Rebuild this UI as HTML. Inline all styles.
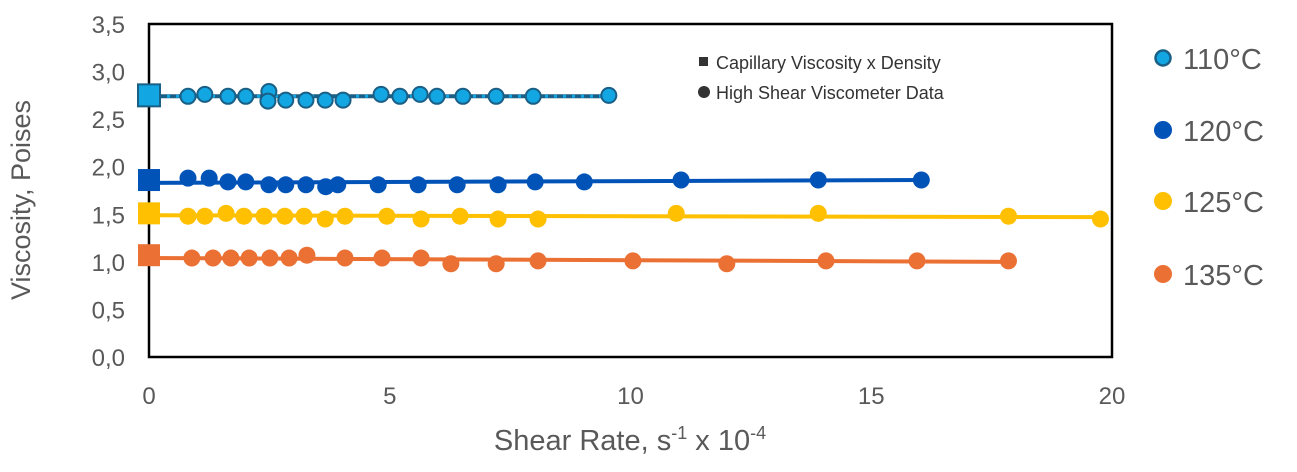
<!DOCTYPE html>
<html><head><meta charset="utf-8"><style>
body{margin:0;background:#fff;}
svg{display:block;font-family:"Liberation Sans",sans-serif;}
</style></head><body>
<svg id="chart" width="1297" height="472">
<g id="grid"></g>
</svg>
<script>
const xTicks=[0,5,10,15,20];
const yTicks=[0,0.5,1,1.5,2,2.5,3,3.5];
const seriesNames=["110°C","120°C","125°C","135°C"];
const capVisc=[2.75,1.86,1.51,1.07];
const x110=[0.81,1.16,1.64,2.01,2.49,2.47,2.84,3.26,3.66,4.03,4.82,5.21,5.63,5.98,6.52,7.21,7.98,9.55];
const y110=[2.74,2.76,2.74,2.74,2.79,2.69,2.70,2.70,2.70,2.70,2.76,2.74,2.76,2.74,2.74,2.74,2.74,2.75];
const x120=[0.81,1.25,1.64,2.01,2.49,2.84,3.26,3.67,3.92,4.76,5.59,6.40,7.25,8.02,9.04,11.05,13.90,16.04];
const y120=[1.88,1.88,1.84,1.84,1.81,1.81,1.81,1.79,1.81,1.81,1.81,1.81,1.81,1.84,1.84,1.86,1.86,1.86];
const x125=[0.81,1.16,1.60,1.97,2.39,2.82,3.22,3.66,4.07,4.94,5.65,6.46,7.25,8.08,10.95,13.90,17.85,19.76];
const y125=[1.48,1.48,1.51,1.48,1.48,1.48,1.48,1.45,1.48,1.48,1.45,1.48,1.45,1.45,1.51,1.51,1.48,1.45];
const x135=[0.89,1.33,1.70,2.08,2.51,2.91,3.28,4.07,4.84,5.65,6.27,7.21,8.08,10.05,12.0,14.06,15.95,17.85];
const y135=[1.04,1.04,1.04,1.04,1.04,1.04,1.07,1.04,1.04,1.04,0.98,0.98,1.01,1.01,0.98,1.01,1.01,1.01];
const trendStart=[2.74,1.83,1.49,1.04];
const trendEnd=[2.74,1.86,1.47,1.00];
const trendEndX=[9.55,16.04,19.76,17.85];

const NS="http://www.w3.org/2000/svg";
const svg=document.getElementById('chart');
const L=149,R=1112,T=24,B=357;
const xs=v=>L+(v-0)/20*(R-L);
const ys=v=>B-(v/3.5)*(B-T);
function el(t,a,p){const e=document.createElementNS(NS,t);for(const k in a)e.setAttribute(k,a[k]);(p||svg).appendChild(e);return e;}

xTicks.forEach(v=>{const t=el('text',{x:xs(v),y:404,'text-anchor':'middle','font-size':24,fill:'#595959'});t.textContent=String(v);

});
yTicks.forEach(v=>{const t=el('text',{x:125,y:ys(v)+9,'text-anchor':'end','font-size':24,fill:'#595959'});t.textContent=v.toFixed(1).replace('.',',');

});

const frame=el('rect',{x:L,y:T,width:R-L,height:B-T,fill:'none',stroke:'#000','stroke-width':2.5});



const colors=['#12a6e2','#0153b8','#fec000','#eb7033'];
const xsArr=[x110,x120,x125,x135], ysArr=[y110,y120,y125,y135];
for(let i=3;i>=0;i--){
  const g=el('g',{});
  
  
  if(i===0){
    el('line',{x1:xs(0),y1:ys(trendStart[0]),x2:xs(trendEndX[0]),y2:ys(trendEnd[0]),stroke:'#1a5f86','stroke-width':4},g);
    el('line',{x1:xs(0),y1:ys(trendStart[0]),x2:xs(trendEndX[0]),y2:ys(trendEnd[0]),stroke:'#12a6e2','stroke-width':3,'stroke-dasharray':'3 6'},g);
  } else {
    const ln=el('line',{x1:xs(0),y1:ys(trendStart[i]),x2:xs(trendEndX[i]),y2:ys(trendEnd[i]),stroke:colors[i],'stroke-width':4},g);
    
    
  }
  xsArr[i].forEach((x,j)=>{
    const c=el('circle',{cx:xs(x),cy:ys(ysArr[i][j]),r:i===0?7.5:8.5,fill:colors[i],stroke:i===0?'#1a5f86':'none','stroke-width':2},g);
    
    
  });
  const s=el('rect',{x:xs(0)-11,y:ys(capVisc[i])-11,width:22,height:22,fill:colors[i],stroke:i===0?'#1a5f86':'none','stroke-width':2},g);
  
  
}

const il=el('g',{});


el('rect',{x:699,y:57,width:9,height:9,fill:'#333'},il);
el('circle',{cx:704,cy:92,r:6,fill:'#333'},il);
let t=el('text',{x:716,y:69,'font-size':18,fill:'#333'},il);t.textContent='Capillary Viscosity x Density';
t=el('text',{x:716,y:99,'font-size':18,fill:'#333'},il);t.textContent='High Shear Viscometer Data';

const lg=el('g',{});


const ly=[58,130,201,274];
seriesNames.forEach((n,i)=>{
  const e=el('g',{},lg);
  
  
  el('circle',{cx:1163,cy:ly[i],r:i===0?7.5:9,fill:colors[i],stroke:i===0?'#1a5f86':'none','stroke-width':2.5},e);
  const tx=el('text',{x:1183,y:ly[i]+11,'font-size':29,fill:'#595959'},e);tx.textContent=n;
});

t=el('text',{x:630,y:450,'text-anchor':'middle','font-size':29,fill:'#595959'});


t.innerHTML='Shear Rate, s<tspan dy="-11" font-size="18">-1</tspan><tspan dy="11"> x 10</tspan><tspan dy="-11" font-size="18">-4</tspan>';
t=el('text',{x:0,y:0,'text-anchor':'middle','font-size':27,fill:'#595959',transform:'translate(30,200) rotate(-90)'});


t.textContent='Viscosity, Poises';
</script>
</body></html>
